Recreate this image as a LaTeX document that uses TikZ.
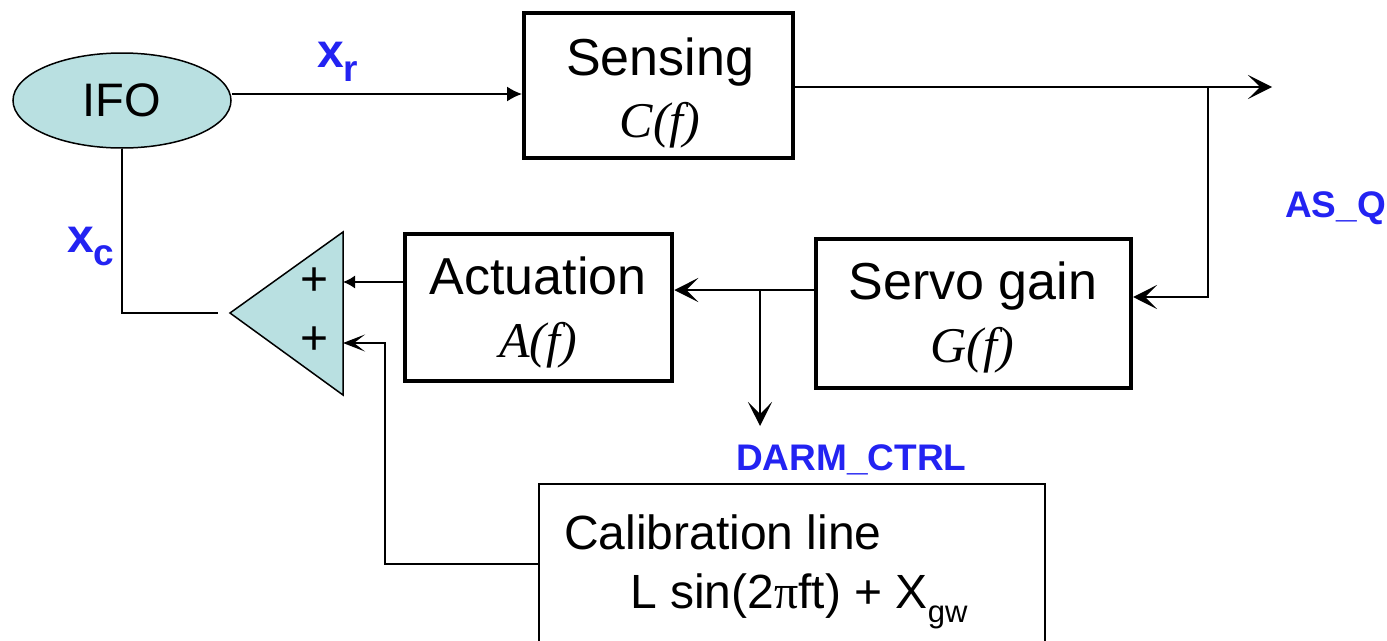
\documentclass[tikz,border=0pt]{standalone}
\usepackage{fontspec}
\setmainfont{Liberation Sans}
\newfontfamily\tms{Liberation Serif}
\usetikzlibrary{arrows.meta,shapes.geometric}
\definecolor{tealfill}{HTML}{B9E0E1}
\definecolor{lblue}{HTML}{2323F2}
\newcommand{\fs}[1]{\fontsize{#1}{#1}\selectfont}
\begin{document}
\begin{tikzpicture}[x=1pt,y=-1pt,
  blk/.style={draw,rectangle,line width=4.5pt,inner sep=0pt},
  thinbox/.style={draw,rectangle,line width=1.6pt,inner sep=0pt},
  wire/.style={line width=1.6pt},
  arrS/.style={wire,-{Stealth[length=24pt,width=24pt,inset=12pt]}},
  arrT/.style={wire,-{Stealth[length=22pt,width=17pt,inset=11pt]}},
  arrL/.style={wire,-{Latex[length=15pt,width=15pt]}},
  arrl/.style={wire,-{Latex[length=12pt,width=13pt]}},
  lbl/.style={text=lblue,font=\bfseries\fs{37},inner sep=0pt,anchor=base west},
  txt/.style={inner sep=0pt,anchor=base}]
\useasboundingbox (0,0) rectangle (1387,640);

% boxes
\node[ellipse,draw,fill=tealfill,line width=1.5pt,minimum width=218pt,minimum height=95pt,inner sep=0pt] (ifo) at (122,100.5) {\fs{47}IFO};
\node[blk,minimum width=269pt,minimum height=145pt] (sens) at (658.5,85.5) {};
\node[txt] (sensA) at (660,75) {\fs{52}Sensing};
\node[txt] (sensB) at (660,137) {\fs{50}\tms\itshape C(f)};

\node[blk,minimum width=315pt,minimum height=149pt] (servo) at (973.5,313.5) {};
\node[txt] (servoA) at (973,299) {\fs{52}Servo gain};
\node[txt] (servoB) at (972,362) {\fs{50}\tms\itshape G(f)};

\node[blk,minimum width=267pt,minimum height=147pt] (act) at (538.5,307.5) {};
\node[txt] (actA) at (538,294) {\fs{52}Actuation};
\node[txt] (actB) at (538,357) {\fs{50}\tms\itshape A(f)};

\node[thinbox,minimum width=506pt,minimum height=216pt] (cal) at (792,592) {};
\node[txt,anchor=base west] (calA) at (564,549) {\fs{48}Calibration line};
\node[txt,anchor=base west] (calB) at (630,608) {\fs{48}L sin(2{\tms π}ft) + X\raisebox{-14pt}{\fs{31}gw}};

% summing triangle
\coordinate (tA) at (343,232);
\coordinate (tB) at (343,395);
\coordinate (tC) at (230,313);
\filldraw[fill=tealfill,line width=1.5pt,line join=miter] (tA) -- (tB) -- (tC) -- cycle;
\node[inner sep=0pt] (plus1) at (315,282) {\fs{48}+};
\node[inner sep=0pt] (plus2) at (315,341) {\fs{48}+};
\coordinate (in1) at (343,282);
\coordinate (in2) at (343,343);

% labels
\node[lbl] (xr) at (317,67) {\fs{48}x\raisebox{-14pt}{\fs{37}r}};
\node[lbl] (xc) at (67,252) {\fs{48}x\raisebox{-13pt}{\fs{37}c}};
\node[lbl] (asq) at (1285,217) {AS\_Q};
\node[lbl] (darm) at (736,470) {DARM\_CTRL};

% coordinates
\coordinate (sensin) at (522,94);
\coordinate (out) at (1272,87);
\coordinate (j2) at (1208,87);
\coordinate (servin) at (1133,297);
\coordinate (j1) at (760,290);
\coordinate (darmend) at (760,426);
\coordinate (c1) at (539,564);
\coordinate (c2) at (385,343);
\coordinate (sumout) at (218,313);

% connectors
\draw[arrL] (ifo.east |- sensin) -- (sensin);
\draw[arrS] (out -| sens.east) -- (out);
\draw[arrS] (j2) |- (servin);
\draw[arrS] (j1 -| servo.west) -- (j1 -| act.east);
\draw[arrS] (j1) -- (darmend);
\draw[arrl] (act.west |- in1) -- (in1);
\draw[arrT] (c1) -| (c2) -- (in2);
\draw[wire] (ifo.south) |- (sumout);
\end{tikzpicture}
\end{document}
